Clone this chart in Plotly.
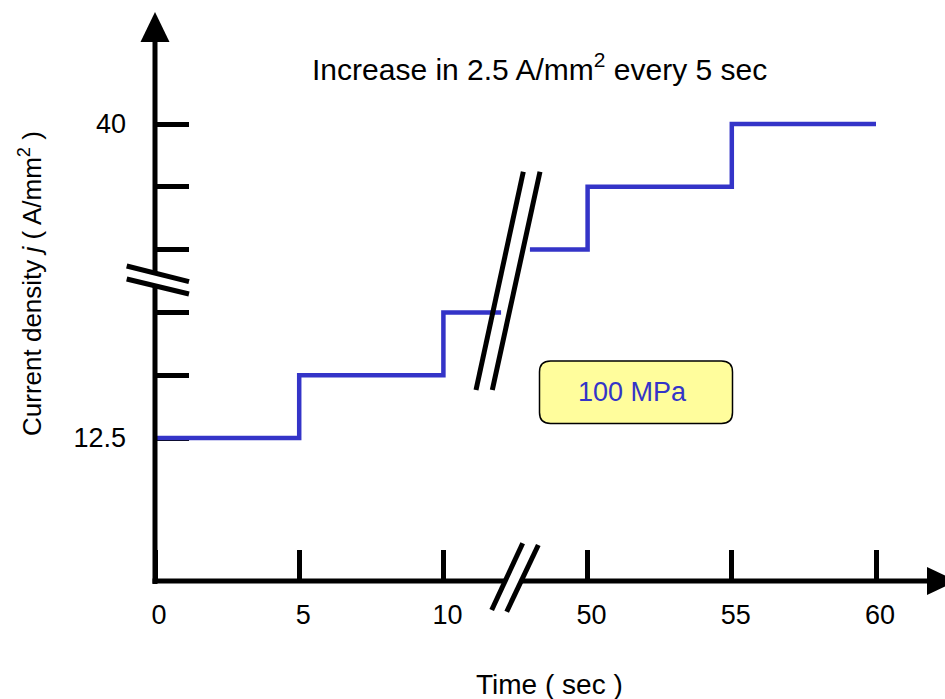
import plotly.graph_objects as go

# ---------------- data ----------------
time_early = [0, 5, 10, 12]          # sec, before the axis break
j_early = [12.5, 15, 17.5, 17.5]     # A/mm^2
time_late = [48, 50, 55, 60]         # sec, after the axis break
j_late = [35, 37.5, 40, 40]          # A/mm^2

x_tick_times = [0, 5, 10, 50, 55, 60]
x_tick_labels = ["0", "5", "10", "50", "55", "60"]
y_tick_j = [12.5, 15, 17.5, 35, 37.5, 40]
y_tick_labels = ["12.5", "", "", "", "", "40"]

title_text = "Increase in 2.5 A/mm<sup>2</sup> every 5 sec"
x_title = "Time ( sec )"
y_title = "Current density <i>j</i> ( A/mm<sup>2</sup> )"
box_text = "100 MPa"

# ---------------- broken-axis transforms ----------------
T_BREAK, T_GAP = 12.5, 35.0
J_BREAK, J_GAP = 25.0, 15.0


def tx(t):
    return t if t <= T_BREAK else t - T_GAP


def ty(j):
    return (j - 12.5) / 2.5 if j <= J_BREAK else (j - 12.5 - J_GAP) / 2.5


# ---------------- geometry / style ----------------
W, H = 945, 699
X0, XS = 155.0, 28.84   # pixel of x-unit 0, pixels per x-unit
Y0, YS = 438.0, 62.8    # pixel of y-unit 0, pixels per y-unit
AXIS_PY = 581.0
BLUE = "#3434C8"
FONT = "Liberation Sans, Arial, sans-serif"
LW = 5


def px(p):
    return (p - X0) / XS


def py(p):
    return (Y0 - p) / YS


def path(points, close=True):
    s = "M " + " L ".join(f"{px(a):.4f},{py(b):.4f}" for a, b in points)
    return s + (" Z" if close else "")


fig = go.Figure()
fig.add_trace(go.Scatter(x=[tx(t) for t in time_early], y=[ty(j) for j in j_early],
                         mode="lines", line=dict(shape="hv", color=BLUE, width=4.5),
                         hoverinfo="skip"))
fig.add_trace(go.Scatter(x=[tx(t) for t in time_late], y=[ty(j) for j in j_late],
                         mode="lines", line=dict(shape="hv", color=BLUE, width=4.5),
                         hoverinfo="skip"))

shapes = []


def line(x0, y0, x1, y1, w=LW, color="black"):
    shapes.append(dict(type="line", xref="x", yref="y", x0=px(x0), y0=py(y0),
                       x1=px(x1), y1=py(y1), line=dict(color=color, width=w),
                       layer="above"))


def poly(points, fill, w=0, color="black"):
    shapes.append(dict(type="path", xref="x", yref="y", path=path(points),
                       fillcolor=fill, line=dict(color=color, width=w),
                       layer="above"))


# axes lines
line(155, 584, 155, 40)
line(152.5, AXIS_PY, 935, AXIS_PY)
# arrow heads
poly([(140.5, 42), (155, 12), (169.5, 42)], "black")
poly([(927, 567), (957, AXIS_PY), (927, 595)], "black")
# y-axis break
poly([(148, 271.4), (163, 275.1), (163, 288.1), (148, 284.4)], "white")
line(126.7, 266, 189, 281.7)
line(126.7, 279, 189, 294)
# x-axis break
poly([(508, 575), (524.1, 575), (518.4, 587), (502.4, 587)], "white")
line(522.7, 543.3, 491.7, 610)
line(538.3, 545, 506.7, 611.7)
# break in the data
line(523.3, 171.7, 476, 390)
line(540, 171.7, 492.3, 390)

# rounded box
bx0, by0, bx1, by1, r = 539.5, 361, 732.5, 423.5, 11
box_path = (f"M {px(bx0 + r)},{py(by0)} L {px(bx1 - r)},{py(by0)} "
            f"Q {px(bx1)},{py(by0)} {px(bx1)},{py(by0 + r)} "
            f"L {px(bx1)},{py(by1 - r)} Q {px(bx1)},{py(by1)} {px(bx1 - r)},{py(by1)} "
            f"L {px(bx0 + r)},{py(by1)} Q {px(bx0)},{py(by1)} {px(bx0)},{py(by1 - r)} "
            f"L {px(bx0)},{py(by0 + r)} Q {px(bx0)},{py(by0)} {px(bx0 + r)},{py(by0)} Z")
shapes.append(dict(type="path", xref="x", yref="y", path=box_path,
                   fillcolor="#FFFD9C", line=dict(color="black", width=1.5), layer="above"))

annotations = [
    dict(text=title_text, x=539 / W, y=1 - 67 / H, xref="paper", yref="paper",
         showarrow=False, xanchor="center", yanchor="middle",
         font=dict(family=FONT, size=30, color="black")),
    dict(text=x_title, x=549 / W, y=1 - 684 / H, xref="paper", yref="paper",
         showarrow=False, xanchor="center", yanchor="middle",
         font=dict(family=FONT, size=28, color="black")),
    dict(text=y_title, x=30 / W, y=1 - 284 / H, xref="paper", yref="paper",
         showarrow=False, xanchor="center", yanchor="middle", textangle=-90,
         font=dict(family=FONT, size=26, color="black")),
    dict(text=box_text, x=632 / W, y=1 - 392 / H, xref="paper", yref="paper",
         showarrow=False, xanchor="center", yanchor="middle",
         font=dict(family=FONT, size=27, color=BLUE)),
]

fig.update_layout(
    width=W, height=H, margin=dict(l=0, r=0, t=0, b=0),
    paper_bgcolor="white", plot_bgcolor="white", showlegend=False,
    shapes=shapes, annotations=annotations,
    xaxis=dict(range=[-X0 / XS, (W - X0) / XS], anchor="free",
               position=(H - AXIS_PY) / H, showgrid=False, zeroline=False,
               showline=False, tickvals=[tx(t) for t in x_tick_times],
               ticktext=x_tick_labels, ticks="inside", ticklen=31, tickwidth=LW,
               tickcolor="black", ticklabelshift=4, ticklabelstandoff=15,
               layer="below traces",
               tickfont=dict(family=FONT, size=27, color="black"), fixedrange=True),
    yaxis=dict(range=[-(H - Y0) / YS, Y0 / YS], anchor="free", position=X0 / W,
               showgrid=False, zeroline=False, showline=False,
               tickvals=[ty(j) for j in y_tick_j], ticktext=y_tick_labels,
               ticks="inside", ticklen=33, tickwidth=LW, tickcolor="black",
               ticklabelstandoff=29, layer="below traces",
               tickfont=dict(family=FONT, size=27, color="black"), fixedrange=True),
)

fig.write_html("out.html", config={"displayModeBar": False},
               post_script="document.body.style.margin='0';"
                           "document.body.style.overflow='hidden';")
